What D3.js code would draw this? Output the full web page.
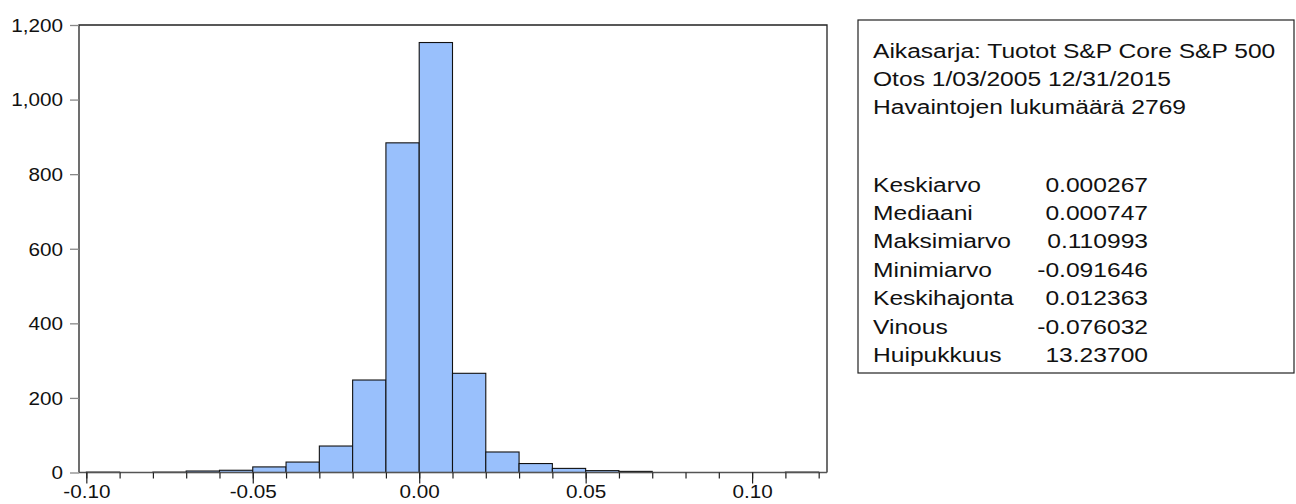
<!DOCTYPE html>
<html><head><meta charset="utf-8">
<script src="https://cdn.jsdelivr.net/npm/d3@7"></script>
<style>body{margin:0;background:#fff}svg{display:block;font-family:"Liberation Sans",Arial,sans-serif}</style>
</head><body><svg id="c" width="1296" height="504"></svg>
<script>
// histogram bins (left edge) and counts
const binStarts = [-0.10,-0.09,-0.08,-0.07,-0.06,-0.05,-0.04,-0.03,-0.02,-0.01,0.00,0.01,0.02,0.03,0.04,0.05,0.06,0.07,0.08,0.09,0.10,0.11];
const counts    = [1,0,1,4,6,15,28,71,248,884,1153,266,55,24,11,5,3,0,0,0,0,1];
const binWidth = 0.01;
const yTicks = [0,200,400,600,800,1000,1200];
const xMajor = [-0.10,-0.05,0.00,0.05,0.10];
const xMinor = [-0.10,-0.09,-0.08,-0.07,-0.06,-0.05,-0.04,-0.03,-0.02,-0.01,0.00,0.01,0.02,0.03,0.04,0.05,0.06,0.07,0.08,0.09,0.10,0.11,0.12];
const headerLines = ["Aikasarja: Tuotot S&P Core S&P 500","Otos 1/03/2005 12/31/2015","Havaintojen lukumäärä 2769"];
const statNames = ["Keskiarvo","Mediaani","Maksimiarvo","Minimiarvo","Keskihajonta","Vinous","Huipukkuus"];
const statValues = ["0.000267","0.000747","0.110993","-0.091646","0.012363","-0.076032","13.23700"];

const svg = d3.select("#c");
const L=79, R=827, T=25, B=472.5;
const x = d3.scaleLinear().domain([-0.1022,0.1225]).range([L,R]);
const y = d3.scaleLinear().domain([0,1200]).range([B,T]);
const SX = 1.15; // horizontal text stretch of the original axis labels
const fmtX = d => d3.format(".2f")(d).replace("\u2212","-");

// bars
svg.append("g").selectAll("rect").data(binStarts).join("rect")
  .attr("x", d=>x(d)).attr("width", d=>x(d+binWidth)-x(d))
  .attr("y", (d,i)=>y(counts[i])).attr("height",(d,i)=>B-y(counts[i]))
  .attr("fill","#99c0fc").attr("stroke","#111").attr("stroke-width",1.1);

// frame
svg.append("path").attr("d",`M${L},${B}V${T}H${R}V${B}`).attr("fill","none").attr("stroke","#222").attr("stroke-width",1.3);
svg.append("line").attr("x1",L).attr("x2",R).attr("y1",B).attr("y2",B).attr("stroke","#555").attr("stroke-width",1.6);

// y axis
const yAxis = d3.axisLeft(y).tickValues(yTicks).tickSize(9).tickPadding(0).tickFormat(d3.format(","));
const gy = svg.append("g").attr("transform",`translate(${L},0)`).call(yAxis);
gy.select(".domain").remove();
gy.selectAll(".tick line").attr("stroke","#888").attr("stroke-width",1.3);
gy.selectAll(".tick text").attr("x",0).attr("dy","0.35em").attr("font-size",18).attr("fill","#111")
  .attr("transform",`translate(-16,0) scale(${SX},1)`);

// x axis minor + major
const gxm = svg.append("g").attr("transform",`translate(0,${B})`).call(d3.axisBottom(x).tickValues(xMinor).tickSize(6).tickFormat(""));
gxm.select(".domain").remove();
gxm.selectAll(".tick line").attr("stroke","#222").attr("stroke-width",1.2);
const gx = svg.append("g").attr("transform",`translate(0,${B})`).call(d3.axisBottom(x).tickValues(xMajor).tickSize(11).tickPadding(0).tickFormat(fmtX));
gx.select(".domain").remove();
gx.selectAll(".tick line").attr("stroke","#222").attr("stroke-width",1.2);
gx.selectAll(".tick text").attr("y",0).attr("dy",0).attr("font-size",18).attr("fill","#111")
  .attr("transform",`translate(0,25.5) scale(${SX},1)`);

// stats box
const BX0=858, BX1=1294, BY0=20, BY1=373;
svg.append("rect").attr("x",BX0).attr("y",BY0).attr("width",BX1-BX0).attr("height",BY1-BY0)
  .attr("fill","#fff").attr("stroke","#222").attr("stroke-width",1.2);
const lh = 28.4, fs = 20, BSX = 1.23;
const tx = 873, vx = 1148;
headerLines.forEach((t,i)=>{
  svg.append("text").text(t).attr("font-size",fs).attr("fill","#111")
    .attr("transform",`translate(${tx},${57.5+i*lh}) scale(${BSX},1)`);
});
statNames.forEach((t,i)=>{
  const yy = 191.5 + i*lh;
  svg.append("text").text(t).attr("font-size",fs).attr("fill","#111")
    .attr("transform",`translate(${tx},${yy}) scale(${BSX},1)`);
  svg.append("text").text(statValues[i]).attr("font-size",fs).attr("fill","#111").attr("text-anchor","end")
    .attr("transform",`translate(${vx},${yy}) scale(${BSX},1)`);
});
</script></body></html>
